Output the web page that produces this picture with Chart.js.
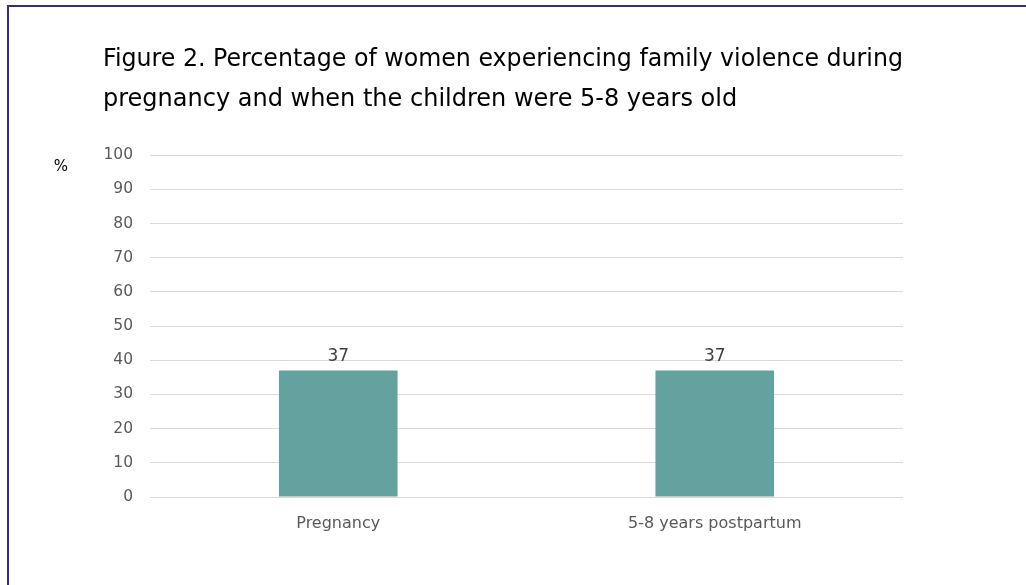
<!DOCTYPE html>
<html>
<head>
<meta charset="utf-8">
<script src="https://cdn.jsdelivr.net/npm/chart.js@4/dist/chart.umd.min.js"></script>
<style>
  html, body { margin: 0; padding: 0; background: #fff; }
  #wrap { position: relative; width: 1026px; height: 585px; overflow: hidden; }
  #frame {
    position: absolute; left: 7px; top: 5px; right: -10px; bottom: -10px;
    border-left: 2px solid #3b2b82; border-top: 2px solid #3b2b82;
    pointer-events: none;
  }
</style>
</head>
<body>
<div id="wrap">
  <canvas id="chart" width="1026" height="585"></canvas>
  <div id="frame"></div>
</div>
<script>
const FONT = "'DejaVu Sans', sans-serif";

const titleLines = [
  "Figure 2. Percentage of women experiencing family violence during",
  "pregnancy and when the children were 5-8 years old"
];
const categories = ["Pregnancy", "5-8 years postpartum"];
const percentValues = [37, 37];
const yTicks = [0, 10, 20, 30, 40, 50, 60, 70, 80, 90, 100];
const unitLabel = "%";

// value labels above bars + the "%" unit label beside the y axis
const labelPlugin = {
  id: "labels",
  afterDatasetsDraw(chart) {
    const ctx = chart.ctx;
    ctx.save();
    ctx.font = "17px " + FONT;
    ctx.fillStyle = "#404040";
    ctx.textAlign = "center";
    ctx.textBaseline = "bottom";
    chart.getDatasetMeta(0).data.forEach((bar, i) => {
      ctx.fillText(percentValues[i], bar.x, bar.y - 5);
    });
    const y = chart.scales.y;
    ctx.font = "15px " + FONT;
    ctx.fillStyle = "#000";
    ctx.textBaseline = "middle";
    ctx.fillText(unitLabel, 61, y.getPixelForValue(100) + 12);
    ctx.restore();
  }
};

new Chart(document.getElementById("chart"), {
  type: "bar",
  data: {
    labels: categories,
    datasets: [{
      data: percentValues,
      backgroundColor: "#63a29e",
      borderWidth: 0,
      barPercentage: 0.63,
      categoryPercentage: 0.5
    }]
  },
  options: {
    responsive: false,
    animation: false,
    layout: { padding: { left: 103, right: 123, top: 0, bottom: 0 } },
    plugins: {
      legend: { display: false },
      tooltip: { enabled: false },
      title: {
        display: true,
        text: titleLines,
        align: "start",
        color: "#000",
        font: { family: FONT, size: 24, weight: "normal", lineHeight: 1.67 },
        padding: { top: 40, bottom: 35 }
      }
    },
    scales: {
      x: {
        grid: { display: false, drawTicks: false },
        border: { display: false },
        ticks: { color: "#595959", font: { family: FONT, size: 16 }, padding: 17 },
        afterFit(s) { s.height = 88; }
      },
      y: {
        min: 0,
        max: 100,
        afterBuildTicks(s) { s.ticks = yTicks.map(v => ({ value: v })); },
        grid: { color: "#d9d9d9", lineWidth: 1, drawTicks: false },
        border: { display: false },
        ticks: { color: "#595959", font: { family: FONT, size: 15.5 }, padding: 17 },
        afterFit(s) { s.width = 47; }
      }
    }
  },
  plugins: [labelPlugin]
});
</script>
</body>
</html>
